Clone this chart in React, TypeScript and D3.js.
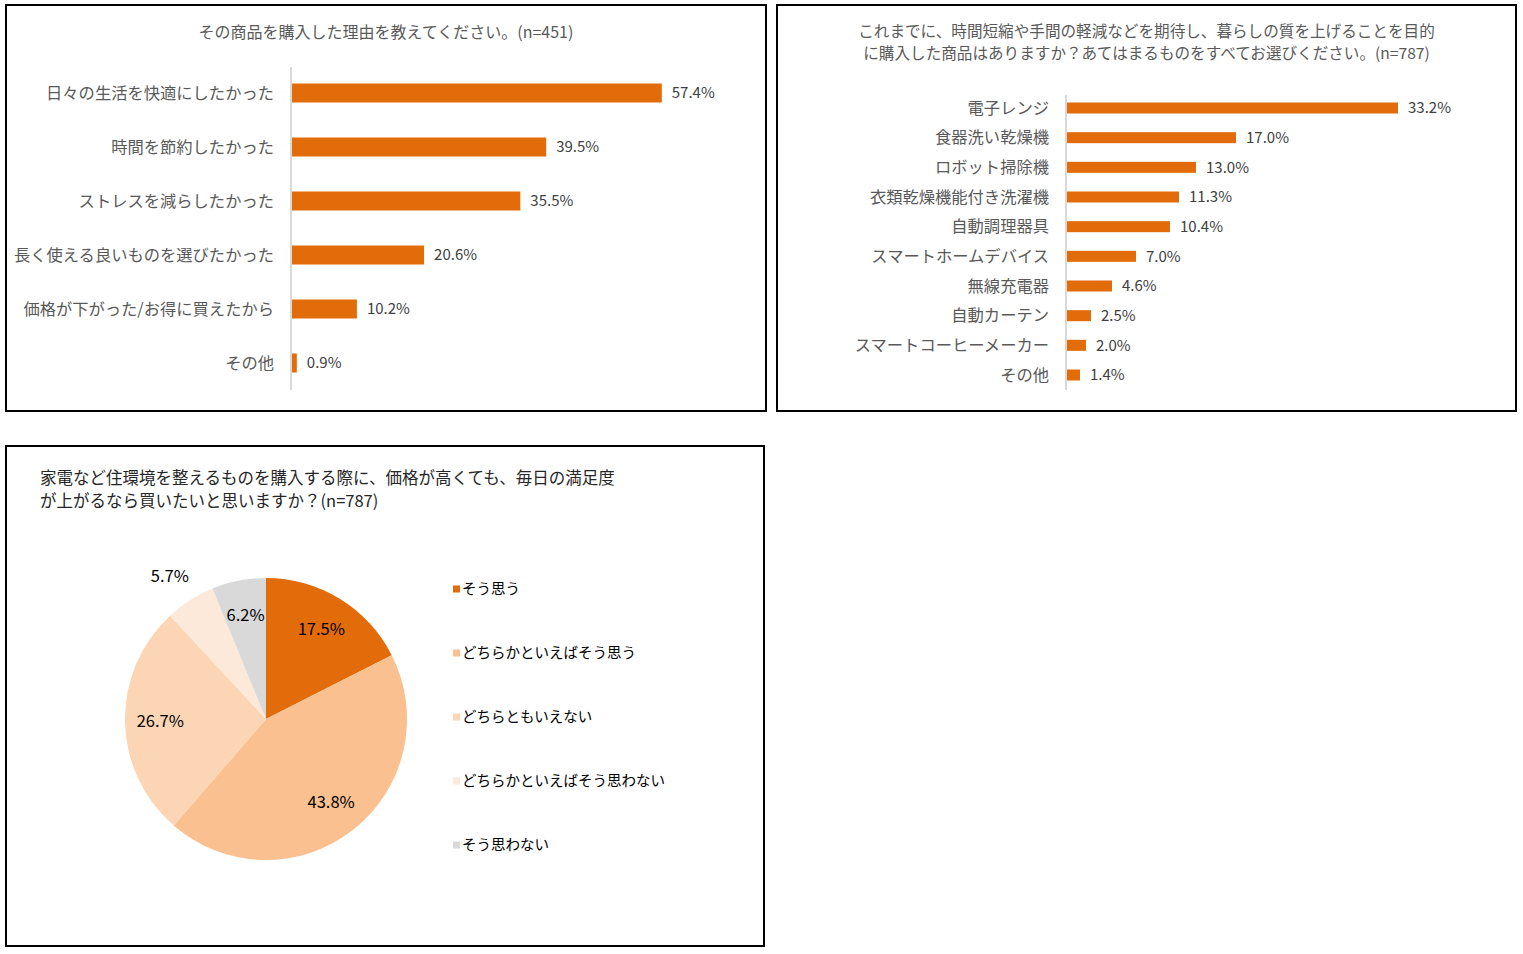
import * as d3 from "d3";

const FONT = "'Noto Sans CJK JP', 'Noto Sans', sans-serif";
const ORANGE = "#E36C0A";

// chart 1
const reasonTitle = "その商品を購入した理由を教えてください。(n=451)";
const reasons = [
  "日々の生活を快適にしたかった",
  "時間を節約したかった",
  "ストレスを減らしたかった",
  "長く使える良いものを選びたかった",
  "価格が下がった/お得に買えたから",
  "その他",
];
const reasonValues = [57.4, 39.5, 35.5, 20.6, 10.2, 0.9];

// chart 2
const productTitle = [
  "これまでに、時間短縮や手間の軽減などを期待し、暮らしの質を上げることを目的",
  "に購入した商品はありますか？あてはまるものをすべてお選びください。(n=787)",
];
const products = [
  "電子レンジ",
  "食器洗い乾燥機",
  "ロボット掃除機",
  "衣類乾燥機能付き洗濯機",
  "自動調理器具",
  "スマートホームデバイス",
  "無線充電器",
  "自動カーテン",
  "スマートコーヒーメーカー",
  "その他",
];
const productValues = [33.2, 17.0, 13.0, 11.3, 10.4, 7.0, 4.6, 2.5, 2.0, 1.4];

// chart 3
const pieTitle = [
  "家電など住環境を整えるものを購入する際に、価格が高くても、毎日の満足度",
  "が上がるなら買いたいと思いますか？(n=787)",
];
const answers = [
  "そう思う",
  "どちらかといえばそう思う",
  "どちらともいえない",
  "どちらかといえばそう思わない",
  "そう思わない",
];
const answerValues = [17.5, 43.8, 26.7, 5.7, 6.2];
const answerColors = [ORANGE, "#FAC090", "#FCD5B5", "#FDE9D9", "#D9D9D9"];

function BarPanel(props: {
  x: number; y: number; w: number; h: number;
  title: string[]; titleY: number; titleSize: number;
  cats: string[]; values: number[];
  axisX: number; axisTop: number; axisBottom: number;
  firstY: number; lastY: number; barH: number; pxPerPct: number;
}) {
  const { cats, values } = props;
  const yScale = d3
    .scalePoint<string>()
    .domain(cats)
    .range([props.firstY, props.lastY]);
  const xScale = d3
    .scaleLinear()
    .domain([0, 100])
    .range([props.axisX, props.axisX + props.pxPerPct * 100]);
  return (
    <g>
      <rect x={props.x} y={props.y} width={props.w} height={props.h} fill="#fff" stroke="#000" strokeWidth={2} />
      {props.title.map((t, i) => (
        <text key={i} x={props.x + props.w / 2} y={props.titleY + i * 22} textAnchor="middle" fontSize={props.titleSize} fill="#595959" fontFamily={FONT}>
          {t}
        </text>
      ))}
      {cats.map((c, i) => {
        const cy = yScale(c) as number;
        return (
          <g key={c}>
            <rect x={xScale(0)} y={cy - props.barH / 2} width={xScale(values[i]) - xScale(0)} height={props.barH} fill={ORANGE} />
            <text x={props.axisX - 17} y={cy} dy="0.35em" textAnchor="end" fontSize={16.3} fill="#595959" fontFamily={FONT}>
              {c}
            </text>
            <text x={xScale(values[i]) + 10} y={cy} dy="0.35em" fontSize={15} fill="#404040" fontFamily={FONT}>
              {values[i].toFixed(1)}%
            </text>
          </g>
        );
      })}
      <line x1={props.axisX} x2={props.axisX} y1={props.axisTop} y2={props.axisBottom} stroke="#D9D9D9" strokeWidth={2} />
    </g>
  );
}

function PiePanel() {
  const cx = 266, cy = 719, R = 141;
  const pie = d3.pie<number>().sort(null).value((d) => d);
  const arcs = pie(answerValues);
  const arc = d3.arc<d3.PieArcDatum<number>>().innerRadius(0).outerRadius(R);
  const inLabel = d3.arc<d3.PieArcDatum<number>>().innerRadius(R * 0.75).outerRadius(R * 0.75);
  const outLabel = d3.arc<d3.PieArcDatum<number>>().innerRadius(R * 1.2).outerRadius(R * 1.2);
  const legendY = d3.scalePoint<string>().domain(answers).range([589, 845]);
  return (
    <g>
      <rect x={6} y={446} width={758} height={500} fill="#fff" stroke="#000" strokeWidth={2} />
      {pieTitle.map((t, i) => (
        <text key={i} x={40} y={484 + i * 23} fontSize={16.5} fill="#262626" fontFamily={FONT}>
          {t}
        </text>
      ))}
      <g transform={`translate(${cx},${cy})`}>
        {arcs.map((a, i) => (
          <path key={i} d={arc(a) as string} fill={answerColors[i]} />
        ))}
        {arcs.map((a, i) => {
          // the thin slice's label sits outside the pie
          const outside = i === 3;
          const [lx, ly] = (outside ? outLabel : inLabel).centroid(a);
          return (
            <text key={i} x={outside ? lx - 5 : lx} y={ly} dy="0.35em" textAnchor="middle" fontSize={16.5} fill="#000" fontFamily={FONT}>
              {answerValues[i].toFixed(1)}%
            </text>
          );
        })}
      </g>
      {answers.map((a, i) => {
        const ly = legendY(a) as number;
        return (
          <g key={a}>
            <rect x={453} y={ly - 3.5} width={7} height={7} fill={answerColors[i]} />
            <text x={462} y={ly} dy="0.35em" fontSize={14.5} fill="#000" fontFamily={FONT}>
              {a}
            </text>
          </g>
        );
      })}
    </g>
  );
}

export default function App() {
  return (
    <svg width={1523} height={954} style={{ position: "absolute", left: 0, top: 0, background: "#fff" }}>
      <rect width={1523} height={954} fill="#fff" />
      <BarPanel
        x={6} y={5} w={760} h={406}
        title={[reasonTitle]} titleY={38} titleSize={16}
        cats={reasons} values={reasonValues}
        axisX={291} axisTop={67} axisBottom={390}
        firstY={93} lastY={363} barH={19} pxPerPct={6.46}
      />
      <BarPanel
        x={777} y={5} w={739} h={406}
        title={productTitle} titleY={37} titleSize={15.6}
        cats={products} values={productValues}
        axisX={1066} axisTop={95} axisBottom={390}
        firstY={108} lastY={375} barH={11} pxPerPct={10}
      />
      <PiePanel />
    </svg>
  );
}
